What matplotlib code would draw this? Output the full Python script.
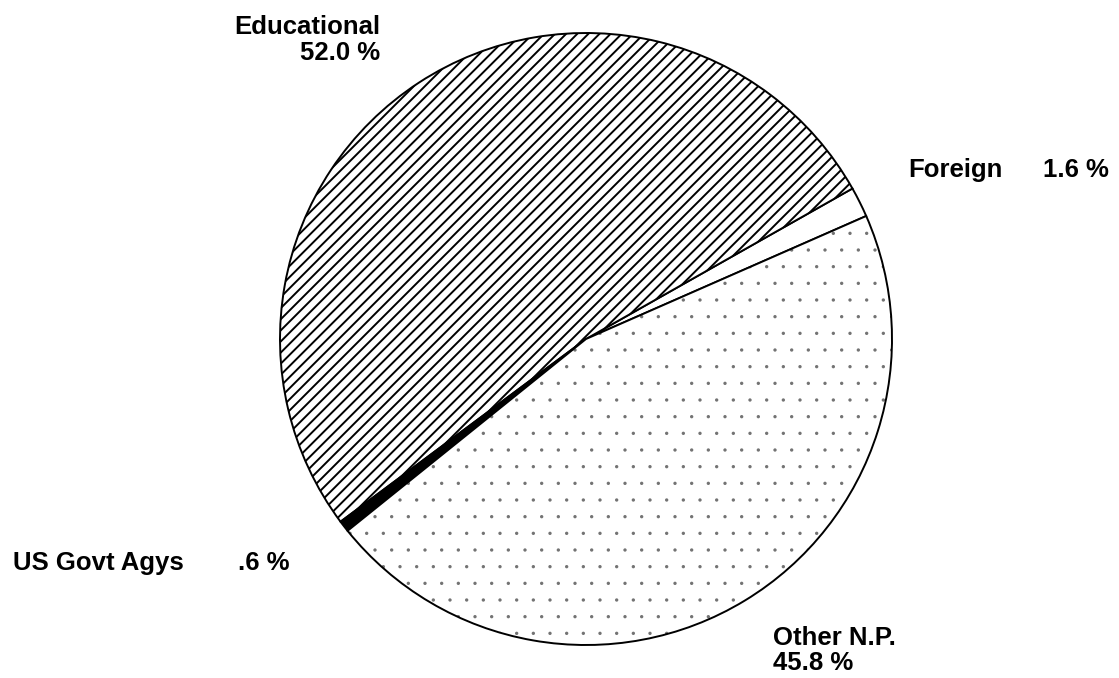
import matplotlib
matplotlib.use("Agg")
import matplotlib.pyplot as plt

# ---- data ----
categories = ["Foreign", "Educational", "US Govt Agys", "Other N.P."]
shares = [1.6, 52.0, 0.6, 45.8]
pct_labels = ["1.6 %", "52.0 %", ".6 %", "45.8 %"]

# ---- styles ----
fills = ["white", "white", "black", "white"]
hatches = [None, "///", None, "."]

W, H = 1119, 678
CX, CY, R = 586, 339, 306  # pie centre / radius in pixels

plt.rcParams["font.family"] = ["Liberation Sans", "DejaVu Sans"]
plt.rcParams["hatch.linewidth"] = 1.4

fig = plt.figure(figsize=(W / 100, H / 100), dpi=100)
ax = fig.add_axes([0, 0, 1, 1])

wedges, _ = ax.pie(shares, startangle=23.7, counterclock=True, radius=1.0,
                   colors=fills,
                   wedgeprops=dict(edgecolor="black", linewidth=1.4))
for w, h in zip(wedges, hatches):
    if h:
        w.set_hatch(h)
# small, light dots for the dotted slice
if hasattr(wedges[3], "_hatch_linewidth"):
    wedges[3]._hatch_linewidth = 0.0
if hasattr(wedges[3], "_hatch_color"):
    wedges[3]._hatch_color = (0.45, 0.45, 0.45, 1.0)

ax.set_aspect("auto")
ax.set_xlim(-CX / R, (W - CX) / R)
ax.set_ylim(-(H - CY) / R, CY / R)
ax.axis("off")


def px(x, y):
    return (x - CX) / R, (CY - y) / R


fs = 18.5
kw = dict(fontsize=fs, fontweight="bold", color="black")

# Educational (right-aligned two-line block)
x, y = px(380, 60)
ax.text(x, y, f"{categories[1]}\n{pct_labels[1]}", ha="right", va="baseline",
        multialignment="right", linespacing=1.1, **kw)

# Foreign
x, y = px(908, 177)
ax.text(x, y, categories[0], ha="left", va="baseline", **kw)
x, y = px(1043, 177)
ax.text(x, y, pct_labels[0], ha="left", va="baseline", **kw)

# US Govt Agys
x, y = px(13, 570)
ax.text(x, y, categories[2], ha="left", va="baseline", **kw)
x, y = px(238, 570)
ax.text(x, y, pct_labels[2], ha="left", va="baseline", **kw)

# Other N.P.
x, y = px(773, 670)
ax.text(x, y, f"{categories[3]}\n{pct_labels[3]}", ha="left", va="baseline",
        multialignment="left", linespacing=1.05, **kw)

fig.savefig("out.png", dpi=100, facecolor="white")
